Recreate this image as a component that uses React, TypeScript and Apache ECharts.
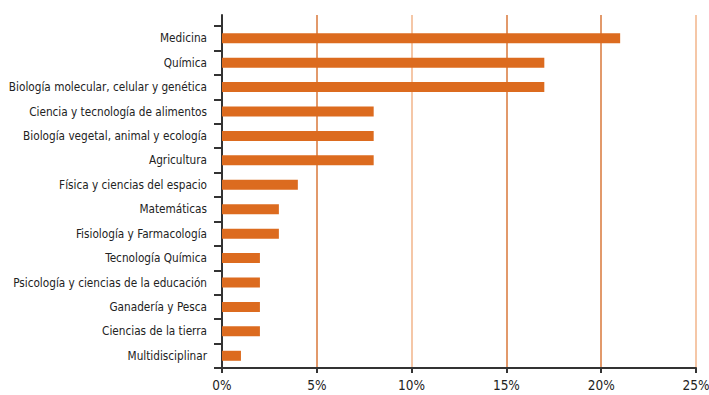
import React, { useEffect, useRef } from "react";
import * as echarts from "echarts";

const categories = [
  "Medicina",
  "Química",
  "Biología molecular, celular y genética",
  "Ciencia y tecnología de alimentos",
  "Biología vegetal, animal y ecología",
  "Agricultura",
  "Física y ciencias del espacio",
  "Matemáticas",
  "Fisiología y Farmacología",
  "Tecnología Química",
  "Psicología y ciencias de la educación",
  "Ganadería y Pesca",
  "Ciencias de la tierra",
  "Multidisciplinar",
];
const values = [21, 17, 17, 8, 8, 8, 4, 3, 3, 2, 2, 2, 2, 1];
const xMin = 0;
const xMax = 25;
const xInterval = 5;

const FONT = "'DejaVu Sans Condensed', sans-serif";

export default function App() {
  const ref = useRef<HTMLDivElement>(null);
  useEffect(() => {
    if (!ref.current) return;
    const chart = echarts.init(ref.current, undefined, { renderer: "svg" });
    const left = 222;
    const right = 13;
    chart.setOption({
      animation: false,
      backgroundColor: "#ffffff",
      grid: [
        { left, right, top: 15, bottom: 27, outerBoundsMode: "none", containLabel: false },
        { left, right, top: 26, bottom: 27, outerBoundsMode: "none", containLabel: false },
      ],
      xAxis: [
        {
          gridIndex: 0,
          type: "value",
          min: xMin,
          max: xMax,
          interval: xInterval,
          axisLine: { show: true, lineStyle: { color: "#333", width: 2 } },
          axisTick: { show: true, length: 5, lineStyle: { color: "#333", width: 2 } },
          axisLabel: {
            formatter: "{value}%",
            color: "#222",
            fontFamily: FONT,
            fontSize: 13.5,
            margin: 10,
          },
          splitLine: {
            show: true,
            lineStyle: {
              color: ["#333", "#d9773a", "#f2b48a", "#d9773a", "#d9773a", "#f2b48a"],
              width: 1.5,
            },
          },
        },
        {
          gridIndex: 1,
          type: "value",
          min: xMin,
          max: xMax,
          interval: xInterval,
          show: false,
        },
      ],
      yAxis: [
        {
          gridIndex: 0,
          type: "value",
          axisLine: { show: true, lineStyle: { color: "#333", width: 2 } },
          axisTick: { show: false },
          axisLabel: { show: false },
          splitLine: { show: false },
        },
        {
          gridIndex: 1,
          type: "category",
          data: categories,
          inverse: true,
          axisLine: { show: false },
          axisTick: { show: true, length: 8, lineStyle: { color: "#333", width: 2 } },
          axisLabel: {
            color: "#222",
            fontFamily: FONT,
            fontSize: 11.7,
            margin: 15,
          },
        },
      ],
      series: [
        {
          type: "bar",
          xAxisIndex: 1,
          yAxisIndex: 1,
          data: values,
          barWidth: 10,
          itemStyle: { color: "#dc6b1f" },
        },
      ],
    });
    return () => chart.dispose();
  }, []);
  return (
    <div
      ref={ref}
      style={{ position: "absolute", left: 0, top: 0, width: 709, height: 395, overflow: "hidden" }}
    />
  );
}
